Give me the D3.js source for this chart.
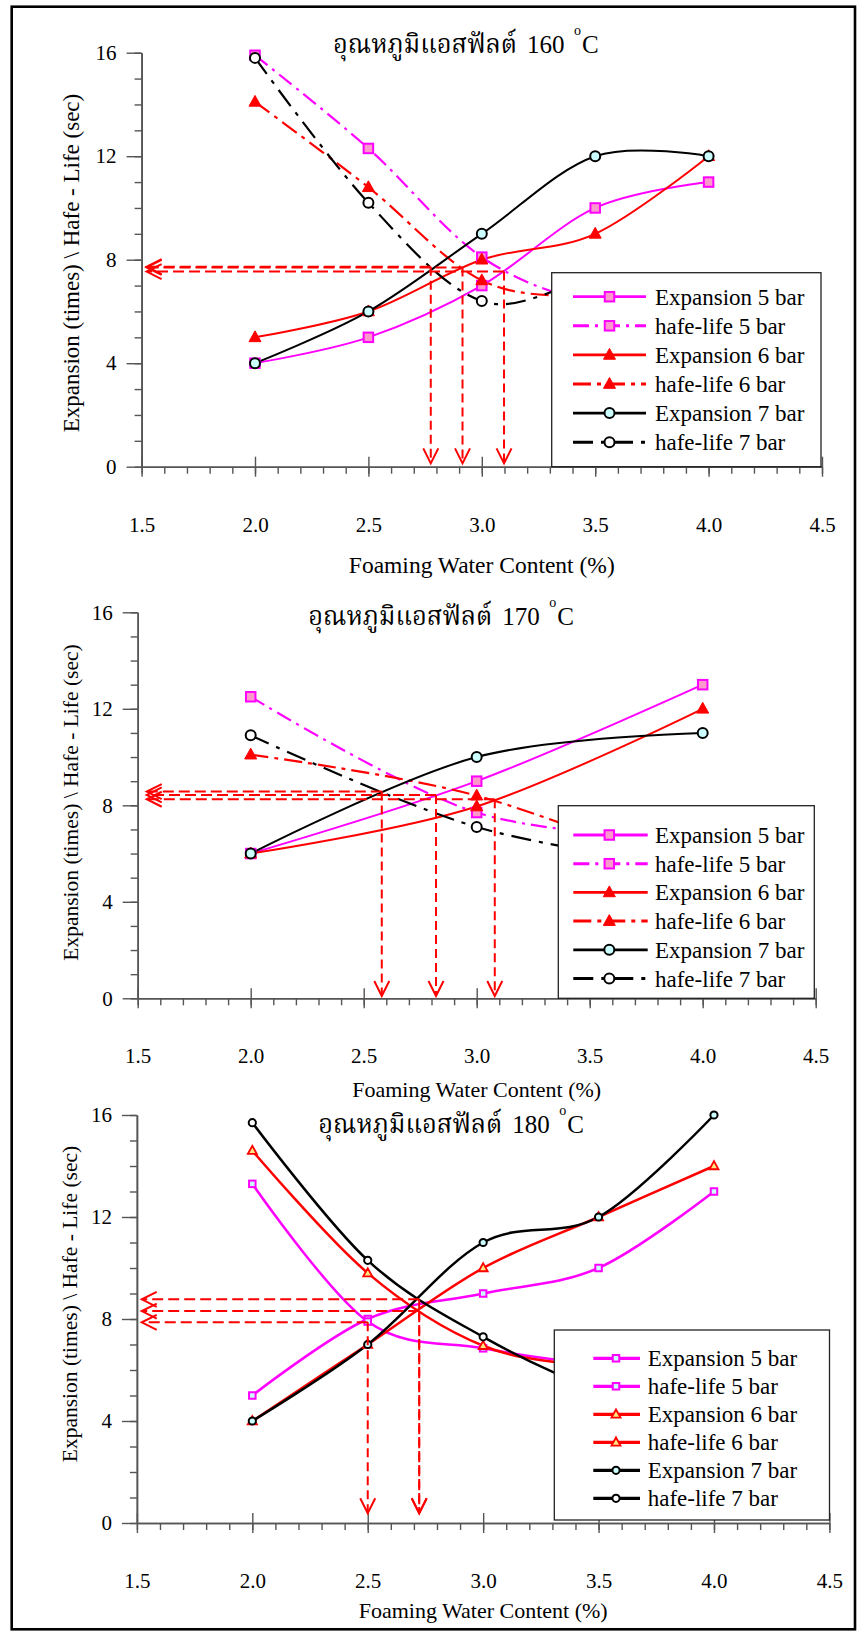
<!DOCTYPE html>
<html>
<head>
<meta charset="utf-8">
<script src="https://cdn.jsdelivr.net/npm/d3@7"></script>
<style>
  body { margin: 0; background: #fff; }
  svg text { font-family: "Liberation Serif", "Times New Roman", serif; fill: #000; }
</style>
</head>
<body>
<svg id="chart" width="858" height="1632"></svg>
<script>
// ---- shared labels ----
const xTicks = [1.5, 2.0, 2.5, 3.0, 3.5, 4.0, 4.5];
const yTicks = [0, 4, 8, 12, 16];
const seriesNames = ["Expansion 5 bar", "hafe-life 5 bar", "Expansion 6 bar",
                     "hafe-life 6 bar", "Expansion 7 bar", "hafe-life 7 bar"];
const titleThai = "อุณหภูมิแอสฟัลต์";
const titleTemps = ["160", "170", "180"];
const xTitle = "Foaming Water Content (%)";
const yTitle = "Expansion (times) \\ Hafe - Life (sec)";

// ---- 160 °C ----
const water160 = [2.0, 2.5, 3.0, 3.5, 4.0];
const exp5_160  = [4, 5, 7, 10, 11];
const half5_160 = [15.9, 12.3, 8.1, 6.3, 6.0];
const exp6_160  = [5, 6, 8, 9, 12];
const half6_160 = [14.1, 10.8, 7.2, 6.5, 6.0];
const exp7_160  = [4, 6, 9, 12, 12];
const half7_160 = [15.8, 10.2, 6.4, 7.2, 7.0];
const crossX_160 = [2.775, 2.915, 3.098];
const crossY_160 = [7.73, 7.70, 7.54];

// ---- 170 °C ----
const water170 = [2.0, 3.0, 4.0];
const exp5_170  = [6, 9, 13];
const half5_170 = [12.5, 7.7, 6.6];
const exp6_170  = [6, 7.95, 12];
const half6_170 = [10.1, 8.4, 5.0];
const exp7_170  = [6, 10, 11];
const half7_170 = [10.9, 7.1, 5.4];
const crossX_170 = [2.58, 2.82, 3.08];
const crossY_170 = [8.57, 8.43, 8.25];

// ---- 180 °C ----
const water180 = [2.0, 2.5, 3.0, 3.5, 4.0];
const exp5_180  = [5, 8, 9, 10, 13];
const half5_180 = [13.3, 7.9, 6.85, 6.2, 5.8];
const exp6_180  = [4, 7, 10, 12, 14];
const half6_180 = [14.6, 9.8, 6.95, 6.1, 5.5];
const exp7_180  = [4, 7, 11, 12, 16];
const half7_180 = [15.7, 10.3, 7.3, 5.2, 4.0];
const crossX_180 = [2.5, 2.723, 2.723];
const crossY_180 = [7.87, 8.31, 8.77];

const panelData = [
  { temp: titleTemps[0], water: water160, series: [exp5_160, half5_160, exp6_160, half6_160, exp7_160, half7_160], crossX: crossX_160, crossY: crossY_160 },
  { temp: titleTemps[1], water: water170, series: [exp5_170, half5_170, exp6_170, half6_170, exp7_170, half7_170], crossX: crossX_170, crossY: crossY_170 },
  { temp: titleTemps[2], water: water180, series: [exp5_180, half5_180, exp6_180, half6_180, exp7_180, half7_180], crossX: crossX_180, crossY: crossY_180 }
];

// ---- layout per panel ----
const layouts = [
  { x0: 141.6, x1: 822.0, yT: 52.7, yB: 466.7, title: [333, 53.3], yLab: [70.8, 263, 23], xLab: [106, 23.5],
    leg: { x: 551.7, y: 272.7, w: 269.3, h: 194, row0: 296.7, step: 29.1, l0: 573, l1: 646, m: 609.5, tx: 655 },
    arrowX: 1.522, arrowY: 0.13, style: "filled" },
  { x0: 137.7, x1: 815.7, yT: 612.3, yB: 998.3, title: [308.3, 625], yLab: [70.5, 802.5, 21.5], xLab: [99, 22],
    leg: { x: 558.3, y: 805.7, w: 256, h: 192.6, row0: 835, step: 28.7, l0: 573.3, l1: 647.7, m: 609.3, tx: 655 },
    arrowX: 1.54, arrowY: 0.095, style: "filled" },
  { x0: 136.9, x1: 829.4, yT: 1115, yB: 1523, title: [318.3, 1133.3], yLab: [69.5, 1304, 21.5], xLab: [94.5, 22],
    leg: { x: 554.3, y: 1330, w: 275.2, h: 190, row0: 1358.3, step: 28, l0: 593.3, l1: 640, m: 616, tx: 647.7 },
    arrowX: 1.521, arrowY: 0.38, style: "open" }
];

// ---- series styles ----
const MAG = "#FF00FF", RED = "#FF0000", BLK = "#000000";
const styles = {
  filled: [
    { color: MAG, dash: null,        shape: "square",   fill: "#FF99CC", size: 9.5, lw: 2 },
    { color: MAG, dash: "16,6,3,6",  shape: "square",   fill: "#FF99CC", size: 9.5, lw: 2.2 },
    { color: RED, dash: null,        shape: "triangle", fill: RED,       size: 12,  lw: 2 },
    { color: RED, dash: "18,6,4,6",  shape: "triangle", fill: RED,       size: 12,  lw: 2.2 },
    { color: BLK, dash: null,        shape: "circle",   fill: "#CCFFFF", size: 5,   lw: 2 },
    { color: BLK, dash: "20,8,4,8",  shape: "circle",   fill: "#FFFFFF", size: 5,   lw: 2.2 }
  ],
  open: [
    { color: MAG, dash: null, shape: "square",   fill: "#CCFFFF", size: 6.5, lw: 2.5 },
    { color: MAG, dash: null, shape: "square",   fill: "#CCFFFF", size: 6.5, lw: 2.5 },
    { color: RED, dash: null, shape: "triangle", fill: "#FFE680", size: 9,   lw: 2.5 },
    { color: RED, dash: null, shape: "triangle", fill: "#FFE680", size: 9,   lw: 2.5 },
    { color: BLK, dash: null, shape: "circle",   fill: "#CCFFFF", size: 3.6, lw: 2.5 },
    { color: BLK, dash: null, shape: "circle",   fill: "#FFFFFF", size: 3.6, lw: 2.5 }
  ]
};

const svg = d3.select("#chart");

// outer frame
svg.append("rect").attr("x", 11.7).attr("y", 6.7).attr("width", 843.3).attr("height", 1622.6)
  .attr("fill", "none").attr("stroke", "#000").attr("stroke-width", 2.6);

function drawMarker(g, st, cx, cy) {
  const s = st.size;
  if (st.shape === "square") {
    g.append("rect").attr("x", cx - s / 2).attr("y", cy - s / 2).attr("width", s).attr("height", s)
      .attr("fill", st.fill).attr("stroke", st.color).attr("stroke-width", 2);
  } else if (st.shape === "triangle") {
    const h = s * 0.9;
    g.append("path")
      .attr("d", `M${cx},${cy - h * 0.6}L${cx + s / 2},${cy + h * 0.4}L${cx - s / 2},${cy + h * 0.4}Z`)
      .attr("fill", st.fill).attr("stroke", st.color).attr("stroke-width", st.fill === RED ? 1 : 1.8)
      .attr("stroke-linejoin", "miter");
  } else {
    g.append("circle").attr("cx", cx).attr("cy", cy).attr("r", s)
      .attr("fill", st.fill).attr("stroke", st.color).attr("stroke-width", 2);
  }
}

panelData.forEach((pd, pi) => {
  const L = layouts[pi];
  const sty = styles[L.style];
  const x = d3.scaleLinear().domain([1.5, 4.5]).range([L.x0, L.x1]);
  const y = d3.scaleLinear().domain([0, 16]).range([L.yB, L.yT]);
  const g = svg.append("g");

  // ---- axes ----
  const axisColor = "#555";
  const yMinor = g.append("g").attr("transform", `translate(${L.x0},0)`)
    .call(d3.axisLeft(y).tickValues(d3.range(0, 17, 1)).tickSize(7).tickFormat("").tickSizeOuter(0));
  const yMajor = g.append("g").attr("transform", `translate(${L.x0},0)`)
    .call(d3.axisLeft(y).tickValues(yTicks).tickSize(15).tickPadding(10).tickSizeOuter(0));
  const xMinor = g.append("g").attr("transform", `translate(0,${L.yB})`)
    .call(d3.axisBottom(x).tickValues(d3.range(15, 46, 1).map(v => v / 10)).tickSize(7).tickFormat("").tickSizeOuter(0));
  const xMajor = g.append("g").attr("transform", `translate(0,${L.yB})`)
    .call(d3.axisBottom(x).tickValues(xTicks).tickSize(10).tickPadding(40).tickFormat(d3.format(".1f")).tickSizeOuter(0));
  // major x ticks cross the axis line
  xMajor.selectAll(".tick line").attr("y1", -10);

  [yMinor, yMajor, xMinor, xMajor].forEach(a => {
    a.select(".domain").attr("stroke", axisColor).attr("stroke-width", 1.6);
    a.selectAll(".tick line").attr("stroke", axisColor).attr("stroke-width", 1.4);
    a.selectAll("text").attr("font-family", "Liberation Serif").attr("font-size", 21).attr("fill", "#000");
  });

  // axis titles
  g.append("text").attr("x", (L.x0 + L.x1) / 2).attr("y", L.yB + L.xLab[0])
    .attr("text-anchor", "middle").attr("font-size", L.xLab[1]).text(xTitle);
  g.append("text").attr("transform", `translate(${L.yLab[0]},${L.yLab[1]}) rotate(-90)`)
    .attr("text-anchor", "middle").attr("dy", "0.35em").attr("font-size", L.yLab[2]).text(yTitle);

  // panel title: Thai caption, temperature, raised "o" and "C"
  const tx = L.title[0], ty = L.title[1];
  g.append("text").attr("x", tx).attr("y", ty)
    .style("font-family", "'Noto Serif Thai','Noto Sans Thai','Tlwg Typo','Norasi','Garuda','Loma','Liberation Serif',serif")
    .attr("font-size", 27).attr("textLength", 184).attr("lengthAdjust", "spacingAndGlyphs")
    .text(titleThai);
  g.append("text").attr("x", tx + 194).attr("y", ty).attr("font-size", 25).text(pd.temp);
  g.append("text").attr("x", tx + 241).attr("y", ty - 18).attr("font-size", 14).text("o");
  g.append("text").attr("x", tx + 249).attr("y", ty).attr("font-size", 25).text("C");

  // ---- series lines ----
  const line = d3.line().x(d => x(d[0])).y(d => y(d[1])).curve(d3.curveCardinal.tension(0));
  pd.series.forEach((vals, si) => {
    const st = sty[si];
    const pts = pd.water.map((w, i) => [w, vals[i]]);
    g.append("path").attr("d", line(pts)).attr("fill", "none")
      .attr("stroke", st.color).attr("stroke-width", st.lw)
      .attr("stroke-dasharray", st.dash).attr("stroke-linejoin", "round");
  });

  // ---- markers ----
  pd.series.forEach((vals, si) => {
    const st = sty[si];
    const mg = g.append("g");
    pd.water.forEach((w, i) => drawMarker(mg, st, x(w), y(vals[i])));
  });

  // ---- read-off arrows ----
  const ag = g.append("g").attr("stroke", RED).attr("stroke-width", 2).attr("fill", "none");
  pd.crossX.forEach((cx, i) => {
    const cy = pd.crossY[i];
    const px = x(cx), py = y(cy);
    const tipX = x(L.arrowX), tipY = y(L.arrowY);
    ag.append("line").attr("x1", px).attr("y1", py).attr("x2", tipX + 1).attr("y2", py).attr("stroke-dasharray", "11,5");
    ag.append("path").attr("d", `M${tipX + 15},${py - 7.5}L${tipX},${py}L${tipX + 15},${py + 7.5}`);
    ag.append("line").attr("x1", px).attr("y1", py).attr("x2", px).attr("y2", tipY - 1).attr("stroke-dasharray", "9,5");
    ag.append("path").attr("d", `M${px - 7.5},${tipY - 15}L${px},${tipY}L${px + 7.5},${tipY - 15}`);
  });

  // ---- legend ----
  const lg = g.append("g");
  const Lg = L.leg;
  lg.append("rect").attr("x", Lg.x).attr("y", Lg.y).attr("width", Lg.w).attr("height", Lg.h)
    .attr("fill", "#fff").attr("stroke", "#222").attr("stroke-width", 1.3);
  seriesNames.forEach((name, si) => {
    const st = sty[si];
    const ry = Lg.row0 + si * Lg.step;
    lg.append("line").attr("x1", Lg.l0).attr("x2", Lg.l1).attr("y1", ry).attr("y2", ry)
      .attr("stroke", st.color).attr("stroke-width", st.lw + 0.8).attr("stroke-dasharray", st.dash);
    drawMarker(lg, st, Lg.m, ry);
    lg.append("text").attr("x", Lg.tx).attr("y", ry).attr("dy", "0.35em").attr("font-size", 23).text(name);
  });
});
</script>
</body>
</html>
